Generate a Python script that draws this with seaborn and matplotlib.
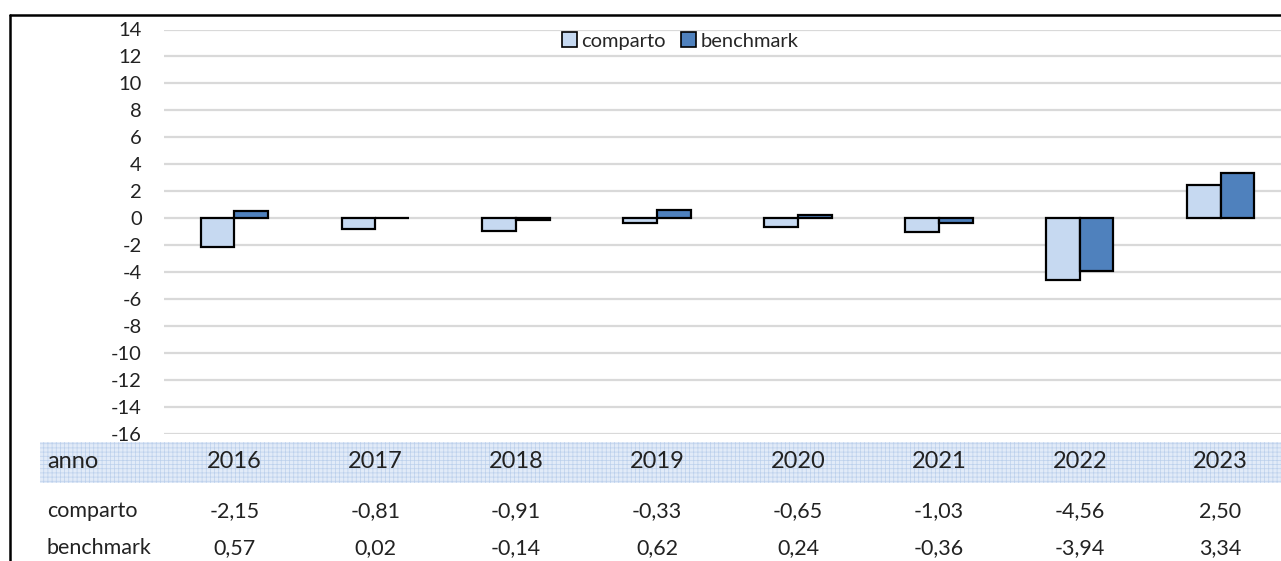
import numpy as np
import pandas as pd
import matplotlib
matplotlib.use("Agg")
import matplotlib.pyplot as plt
import matplotlib.transforms as mtransforms
from matplotlib.patches import Rectangle, Patch
from matplotlib.lines import Line2D
import seaborn as sns

# data
anni = ["2016", "2017", "2018", "2019", "2020", "2021", "2022", "2023"]
comparto = [-2.15, -0.81, -0.91, -0.33, -0.65, -1.03, -4.56, 2.50]
benchmark = [0.57, 0.02, -0.14, 0.62, 0.24, -0.36, -3.94, 3.34]
serie = ["comparto", "benchmark"]
colori = {"comparto": "#c6d9f1", "benchmark": "#4f81bd"}

df = pd.DataFrame({
    "anno": anni * 2,
    "valore": comparto + benchmark,
    "serie": ["comparto"] * len(anni) + ["benchmark"] * len(anni),
})

sns.set_style("white")
plt.rcParams['font.family'] = ['Lato', 'DejaVu Sans']
plt.rcParams['axes.unicode_minus'] = False
plt.rcParams['hatch.color'] = "#bcd0ec"
plt.rcParams['hatch.linewidth'] = 0.5

W, H = 1281, 561
fig = plt.figure(figsize=(W / 100, H / 100), dpi=100)
# axes slightly wider than the figure on the right, like the cropped original
ax = fig.add_axes([164 / W, 1 - 434 / H, (1291 - 164) / W, (434 - 29.5) / H])

sns.barplot(data=df, x="anno", y="valore", hue="serie", order=anni, hue_order=serie,
            palette=colori, saturation=1, edgecolor="black", linewidth=1.6,
            width=0.48, gap=0, legend=False, ax=ax, zorder=3)

ax.set_ylim(-16, 14)
ax.set_xlim(-0.5, 7.5)
ax.set_yticks(np.arange(-16, 15, 2))
ax.set_yticklabels([str(v) for v in np.arange(-16, 15, 2)])
ax.yaxis.grid(True, color="#d9d9d9", linewidth=1.6, zorder=0)
ax.xaxis.grid(False)
ax.set_axisbelow(True)
ax.tick_params(axis="y", length=0, pad=16, labelsize=14.5, labelcolor="#222222")
ax.set_xticks([])
ax.set_xlabel("")
ax.set_ylabel("")
for s in ax.spines.values():
    s.set_visible(False)

# legend at top center
handles = [Patch(facecolor=colori[s], edgecolor="black", linewidth=1.2) for s in serie]
ax.legend(handles, serie, loc="center", bbox_to_anchor=(680 / W, 1 - 41 / H),
          bbox_transform=fig.transFigure, ncol=2, frameon=False,
          handlelength=0.75, handleheight=0.75, handletextpad=0.2,
          columnspacing=0.8, fontsize=14.5)

# outer frame: top and left lines
fig.add_artist(Line2D([10 / W, 1], [1 - 15 / H, 1 - 15 / H], color="black", linewidth=1.8,
                      transform=fig.transFigure))
fig.add_artist(Line2D([10 / W, 10 / W], [0, 1 - 15 / H], color="black", linewidth=1.8,
                      transform=fig.transFigure))

# data table below the chart, header row shaded
band = Rectangle((40 / W, 1 - 483 / H), (W - 40) / W, 41 / H, transform=fig.transFigure,
                 facecolor="#e2ebf8", edgecolor="#bcd0ec", linewidth=0, hatch="++++",
                 zorder=-1)
fig.add_artist(band)

trans = mtransforms.blended_transform_factory(ax.transData, fig.transFigure)
righe = [("anno", anni, 462, 17), ("comparto", comparto, 511, 15.5),
         ("benchmark", benchmark, 548, 15.5)]
for etichetta, valori, ypix, fs in righe:
    fig.text(47 / W, 1 - ypix / H, etichetta, ha="left", va="center",
             fontsize=fs, color="#222222")
    for i, v in enumerate(valori):
        testo = v if isinstance(v, str) else f"{v:.2f}".replace(".", ",")
        ax.text(i, 1 - ypix / H, testo, transform=trans, ha="center", va="center",
                fontsize=fs, color="#222222", clip_on=False)

fig.savefig("out.png", dpi=100)
